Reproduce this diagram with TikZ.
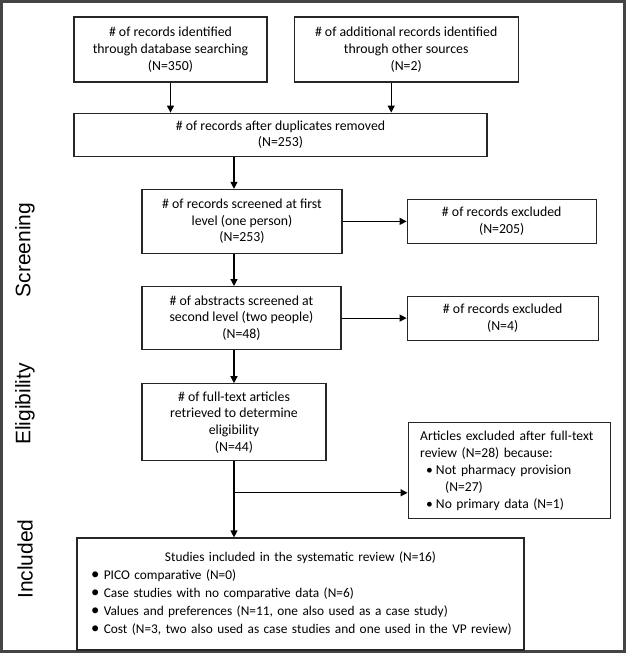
\documentclass[tikz,border=0pt]{standalone}
\usepackage{fontspec}
\setmainfont{Carlito}
\newfontfamily\stagefont{Liberation Sans}
\usetikzlibrary{arrows.meta}
\usetikzlibrary{positioning}
\definecolor{framegrey}{RGB}{68,68,68}
\def\boxfont{\fontsize{13.8pt}{16.7pt}\selectfont}
\def\bul{\scalebox{1.25}{\textbullet}}
\tikzstyle{box} = [rectangle, draw=black!85, line width=1.2pt, text centered, align=center, font=\boxfont, inner sep=3pt]
\tikzstyle{aro} = [-{Triangle[length=7pt, width=7pt]}, line width=1.2pt]
\tikzstyle{stage} = [rotate=90, font=\stagefont\fontsize{21pt}{25pt}\selectfont]

\begin{document}
\begin{tikzpicture}[x=1pt, y=-1pt]

  \useasboundingbox (0,0) rectangle (626,653);
  \draw [framegrey, line width=2.2pt] (1.5,1.5) rectangle (624.5,651.5);

  \node (scr) [stage] at (25,250) {Screening};
  \node (eli) [stage] at (25,404) {Eligibility};
  \node (inc) [stage] at (25,559) {Included};

  \node (src1) [box, minimum width=193pt, minimum height=65pt] at (170.5,49.5) {\# of records identified\\through database searching\\(N=350)};
  \node (src2) [box, minimum width=224pt, minimum height=65pt, right=26pt of src1] {\# of additional records identified\\through other sources\\(N=2)};
  \node (dup) [box, minimum width=413pt, minimum height=43pt, below=30pt of src1.south west, anchor=north west] {\# of records after duplicates removed\\(N=253)};

  \node (screen1) [box, minimum width=200pt, minimum height=64pt, below=32pt of dup.south west, anchor=north west, xshift=68pt] {\# of records screened at first\\level (one person)\\(N=253)};
  \node (excl1) [box, minimum width=189pt, minimum height=44pt, right=64pt of screen1] {\# of records excluded\\(N=205)};

  \node (screen2) [box, minimum width=199pt, minimum height=63pt, below=32pt of screen1.south west, anchor=north west] {\# of abstracts screened at\\second level (two people)\\(N=48)};
  \node (excl2) [box, minimum width=191pt, minimum height=44pt, right=65pt of screen2] {\# of records excluded\\(N=4)};

  \node (full) [box, minimum width=184pt, minimum height=77pt, below=33pt of screen2.south west, anchor=north west] {\# of full-text articles\\retrieved to determine\\eligibility\\(N=44)};
  \node (reasons) [box, text width=178pt, inner xsep=12pt, minimum height=96pt, align=left, font=\fontsize{13.6pt}{17pt}\selectfont, below right=39pt and 81pt of full.north east] {Articles excluded after full-text\\review (N=28) because:\\\hspace*{6pt}\textbullet\hspace{3pt}Not pharmacy provision\\\hspace*{25pt}(N=27)\\\hspace*{6pt}\textbullet\hspace{3pt}No primary data (N=1)};

  \node (incl) [box, text width=425pt, inner xsep=11pt, minimum height=112pt, align=left, font=\fontsize{13.35pt}{18pt}\selectfont, below=76pt of full.south west, anchor=north west, xshift=-65pt] {\makebox[425pt]{Studies included in the systematic review (N=16)}\\
    \hspace*{3pt}\bul\ PICO comparative (N=0)\\
    \hspace*{3pt}\bul\ Case studies with no comparative data (N=6)\\
    \hspace*{3pt}\bul\ Values and preferences (N=11, one also used as a case study)\\
    \hspace*{3pt}\bul\ \mbox{Cost (N=3, two also used as case studies and one used in the VP review)}};

  % connectors
  \coordinate (src2out) at ([xshift=-15pt]src2.south);
  \draw [aro] (src1.south) -- (src1.south |- dup.north);
  \draw [aro] (src2out) -- (src2out |- dup.north);
  \draw [aro] (dup.south -| full.north) -- (screen1.north -| full.north);
  \draw [aro] (screen1.south -| full.north) -- (screen2.north -| full.north);
  \draw [aro] (screen2.south -| full.north) -- (full.north);
  \draw [aro] (screen1.east) -- (excl1.west);
  \draw [aro] (screen2.east) -- (excl2.west);
  \draw [aro] (full.south) -- (full.south |- incl.north);

  \coordinate (split) at ([yshift=-22pt]reasons.west);
  \draw [aro] (split -| full.south) -- (split);

\end{tikzpicture}
\end{document}
